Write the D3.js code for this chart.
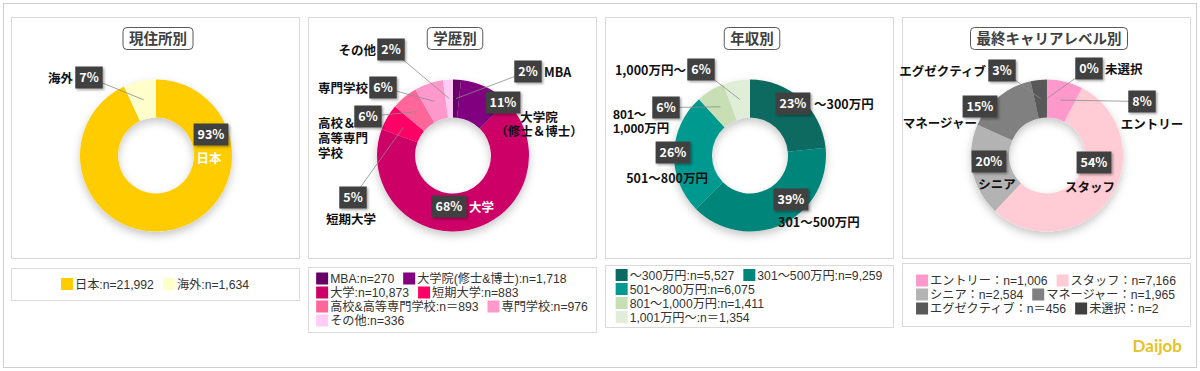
<!DOCTYPE html>
<html>
<head>
<meta charset="utf-8">
<script src="https://cdn.jsdelivr.net/npm/d3@7"></script>
<style>
body { margin: 0; background: #fff; font-family: "Noto Sans CJK JP", sans-serif; }
.tight { font-family: "Liberation Sans", "Noto Sans CJK JP", sans-serif; }
</style>
</head>
<body>
<div id="chart"></div>
<script>
// 現住所別
var residenceNames = [["日本"], ["海外"]];
var residenceCounts = [21992, 1634];
var residenceLegend = ["日本:n=", "海外:n="];
var residenceColors = ["#FFCC00", "#FFFFCC"];

// 学歴別
var educationNames = [["MBA"], ["大学院", "（修士＆博士）"], ["大学"], ["短期大学"], ["高校＆", "高等専門", "学校"], ["専門学校"], ["その他"]];
var educationCounts = [270, 1718, 10873, 883, 893, 976, 336];
var educationLegend = ["MBA:n=", "大学院(修士&博士):n=", "大学:n=", "短期大学:n=", "高校&高等専門学校:n＝", "専門学校:n=", "その他:n="];
var educationColors = ["#660066", "#800080", "#CC0066", "#FF0066", "#FF6699", "#FF99CC", "#FFCCF5"];

// 年収別
var incomeNames = [["～300万円"], ["301～500万円"], ["501～800万円"], ["801～", "1,000万円"], ["1,000万円～"]];
var incomeCounts = [5527, 9259, 6075, 1411, 1354];
var incomeLegend = ["～300万円:n=", "301～500万円:n=", "501～800万円:n=", "801～1,000万円:n=", "1,001万円～:n＝"];
var incomeColors = ["#0B6B61", "#00857A", "#049990", "#C8DEB5", "#E1EED7"];

// 最終キャリアレベル別
var careerNames = [["エントリー"], ["スタッフ"], ["シニア"], ["マネージャー"], ["エグゼクティブ"], ["未選択"]];
var careerCounts = [1006, 7166, 2584, 1965, 456, 2];
var careerLegend = ["エントリー：n=", "スタッフ：n=", "シニア：n=", "マネージャー：n=", "エグゼクティブ：n＝", "未選択：n="];
var careerColors = ["#FF99CC", "#FFCCD5", "#B3B3B3", "#808080", "#595959", "#404040"];

var titles = ["現住所別", "学歴別", "年収別", "最終キャリアレベル別"];

// label placement (box offset from donut centre, name offset from box)
var residencePos = [
	{box: [55, -21], name: [-2, 28], anchor: "middle", white: true},
	{box: [-67, -78], name: [-16, 5], anchor: "end", leader: true}
];
var educationPos = [
	{box: [75, -84], name: [16, 5], anchor: "start", leader: true},
	{box: [50, -53], name: [36, 19], anchor: "middle", lh: 14},
	{box: [-4, 51], name: [20, 5], anchor: "start", white: true},
	{box: [-100, 42], name: [-2, 26], anchor: "middle", leader: true},
	{box: [-85, -39], name: [-50, 11], anchor: "start", lh: 15, leader: true},
	{box: [-70, -68], name: [-15, 5], anchor: "end", leader: true},
	{box: [-62, -106], name: [-15, 5], anchor: "end", leader: true}
];
var incomePos = [
	{box: [43, -52], name: [21, 5], anchor: "start"},
	{box: [41, 44], name: [-13, 27], anchor: "start"},
	{box: [-77, -3], name: [-6, 30], anchor: "middle"},
	{box: [-84, -48], name: [-53, 11], anchor: "start", lh: 14, leader: true},
	{box: [-49, -86], name: [-15, 5], anchor: "end", leader: true}
];
var careerPos = [
	{box: [95, -54], name: [10, 27], anchor: "middle", leader: true},
	{box: [47, 7], name: [-4, 29], anchor: "middle"},
	{box: [-58, 6], name: [8, 27], anchor: "middle"},
	{box: [-67, -49], name: [-3, 21], anchor: "end"},
	{box: [-45, -85], name: [-16, 5], anchor: "end", leader: true},
	{box: [42, -87], name: [16, 5], anchor: "start", leader: true}
];

var legendTop = [268, 267, 265, 263];
var legendHeight = [32, 65, 62, 63];

var panels = [
	{names: residenceNames, counts: residenceCounts, legend: residenceLegend, colors: residenceColors, pos: residencePos},
	{names: educationNames, counts: educationCounts, legend: educationLegend, colors: educationColors, pos: educationPos},
	{names: incomeNames, counts: incomeCounts, legend: incomeLegend, colors: incomeColors, pos: incomePos},
	{names: careerNames, counts: careerCounts, legend: careerLegend, colors: careerColors, pos: careerPos}
];

var svg = d3.select("#chart").append("svg")
	.attr("width", 1200)
	.attr("height", 371);

var defs = svg.append("defs");
defs.append("filter").attr("id", "donutShadow")
	.attr("x", "-30%").attr("y", "-30%").attr("width", "160%").attr("height", "160%")
	.append("feDropShadow")
	.attr("dx", 0).attr("dy", 4).attr("stdDeviation", 4)
	.attr("flood-color", "#000").attr("flood-opacity", 0.22);
defs.append("filter").attr("id", "boxShadow")
	.attr("x", "-30%").attr("y", "-30%").attr("width", "160%").attr("height", "160%")
	.append("feDropShadow")
	.attr("dx", 1.5).attr("dy", 1.5).attr("stdDeviation", 1.2)
	.attr("flood-color", "#000").attr("flood-opacity", 0.35);

// outer frame
svg.append("rect")
	.attr("x", 3.5).attr("y", 3.5)
	.attr("width", 1193).attr("height", 364)
	.attr("fill", "#fff").attr("stroke", "#cfcfcf");

var fmt = d3.format(",");
var pie = d3.pie().sort(null).value(function(d) { return d; });
var arc = d3.arc().innerRadius(38).outerRadius(76);

// whole percents that add up to 100 (largest remainder), like the source labels
function percents(counts) {
	var total = d3.sum(counts);
	var raw = counts.map(function(v) { return v / total * 100; });
	var out = raw.map(Math.floor);
	var left = 100 - d3.sum(out);
	var order = d3.range(raw.length).sort(function(a, b) {
		return (raw[b] - Math.floor(raw[b])) - (raw[a] - Math.floor(raw[a]));
	});
	for (var k = 0; k < left; k++) out[order[k]] += 1;
	return out;
}

function drawPanel(p, i) {
	var x0 = 11 + i * 297;
	var cx = x0 + 145, cy = 155.5;
	var arcs = pie(p.counts);
	var pct = percents(p.counts);

	svg.append("rect")
		.attr("x", x0 + 0.5).attr("y", 17.5)
		.attr("width", 288).attr("height", 241)
		.attr("fill", "#fff").attr("stroke", "#d9d9d9");

	// title
	var tg = svg.append("g");
	var tt = tg.append("text")
		.attr("x", cx + 2).attr("y", 43.5)
		.attr("text-anchor", "middle")
		.attr("font-size", 14.5).attr("font-weight", "bold")
		.attr("fill", "#404040")
		.text(titles[i]);
	var tw = tt.node().getComputedTextLength();
	tg.insert("rect", "text")
		.attr("x", cx + 2 - tw / 2 - 6).attr("y", 27.5)
		.attr("width", tw + 12).attr("height", 22)
		.attr("rx", 4)
		.attr("fill", "#fff").attr("stroke", "#595959");

	var g = svg.append("g").attr("transform", "translate(" + cx + "," + cy + ")");

	g.append("g").attr("filter", "url(#donutShadow)")
		.selectAll("path")
		.data(arcs)
		.enter().append("path")
		.attr("d", arc)
		.attr("fill", function(d, j) { return p.colors[j]; });

	// leader lines go to the slice centroid
	arcs.forEach(function(d, j) {
		var lp = p.pos[j];
		if (!lp.leader) return;
		var c = arc.centroid(d);
		g.append("line")
			.attr("x1", lp.box[0]).attr("y1", lp.box[1])
			.attr("x2", c[0]).attr("y2", c[1])
			.attr("stroke", "#8c8c8c").attr("stroke-width", 0.8);
	});

	arcs.forEach(function(d, j) {
		var lp = p.pos[j];
		var bx = lp.box[0], by = lp.box[1];
		var lab = g.append("g");
		var pt = lab.append("text")
			.attr("x", bx).attr("y", by + 4.5)
			.attr("text-anchor", "middle")
			.attr("font-size", 12.5).attr("font-weight", "bold")
			.attr("fill", "#fff")
			.text(pct[j] + "%");
		var w = pt.node().getComputedTextLength() + 8;
		lab.insert("rect", "text")
			.attr("x", bx - w / 2).attr("y", by - 11)
			.attr("width", w).attr("height", 22)
			.attr("fill", "#404040")
			.attr("filter", "url(#boxShadow)");

		var lines = p.names[j];
		lines.forEach(function(s, k) {
			g.append("text")
				.attr("class", lines.length > 1 ? "tight" : null)
				.attr("x", bx + lp.name[0])
				.attr("y", by + lp.name[1] + k * (lp.lh || 0))
				.attr("text-anchor", lp.anchor)
				.attr("font-size", 12.5).attr("font-weight", "bold")
				.attr("fill", lp.white ? "#fff" : "#111")
				.text(s);
		});
	});

	// legend
	var top = legendTop[i], h = legendHeight[i];
	svg.append("rect")
		.attr("x", x0 + 0.5).attr("y", top + 0.5)
		.attr("width", 288).attr("height", h)
		.attr("fill", "#fff").attr("stroke", "#d9d9d9");

	var lg = svg.append("g");
	var items = p.counts.map(function(v, j) {
		var it = lg.append("g");
		it.append("rect")
			.attr("x", 0).attr("y", -6)
			.attr("width", 12).attr("height", 12)
			.attr("fill", p.colors[j]);
		var t = it.append("text")
			.attr("class", "tight")
			.attr("x", 14).attr("y", 4.5)
			.attr("font-size", 12.2)
			.attr("fill", "#333")
			.text(p.legend[j] + fmt(v));
		return {node: it, w: 14 + t.node().getComputedTextLength()};
	});

	var maxW = 283, gap = 9, rows = [[]], rowW = [0];
	items.forEach(function(it) {
		var r = rows.length - 1;
		var need = rowW[r] === 0 ? it.w : rowW[r] + gap + it.w;
		if (need > maxW && rowW[r] > 0) {
			rows.push([it]);
			rowW.push(it.w);
			it.x = 0;
		} else {
			it.x = rowW[r] === 0 ? 0 : rowW[r] + gap;
			rows[r].push(it);
			rowW[r] = need;
		}
	});
	var blockW = d3.max(rowW);
	var sx = x0 + (288 - blockW) / 2;
	var rh = 14;
	var sy = top + (h - rows.length * rh) / 2 + rh / 2;
	rows.forEach(function(row, r) {
		row.forEach(function(it) {
			it.node.attr("transform", "translate(" + (sx + it.x) + "," + (sy + r * rh) + ")");
		});
	});
}

panels.forEach(drawPanel);

// logo
svg.append("text")
	.attr("x", 1182).attr("y", 352)
	.attr("text-anchor", "end")
	.attr("font-family", "Lato, sans-serif")
	.attr("font-size", 17).attr("font-weight", "bold")
	.attr("fill", "#E6C229")
	.text("Daijob");
</script>
</body>
</html>
